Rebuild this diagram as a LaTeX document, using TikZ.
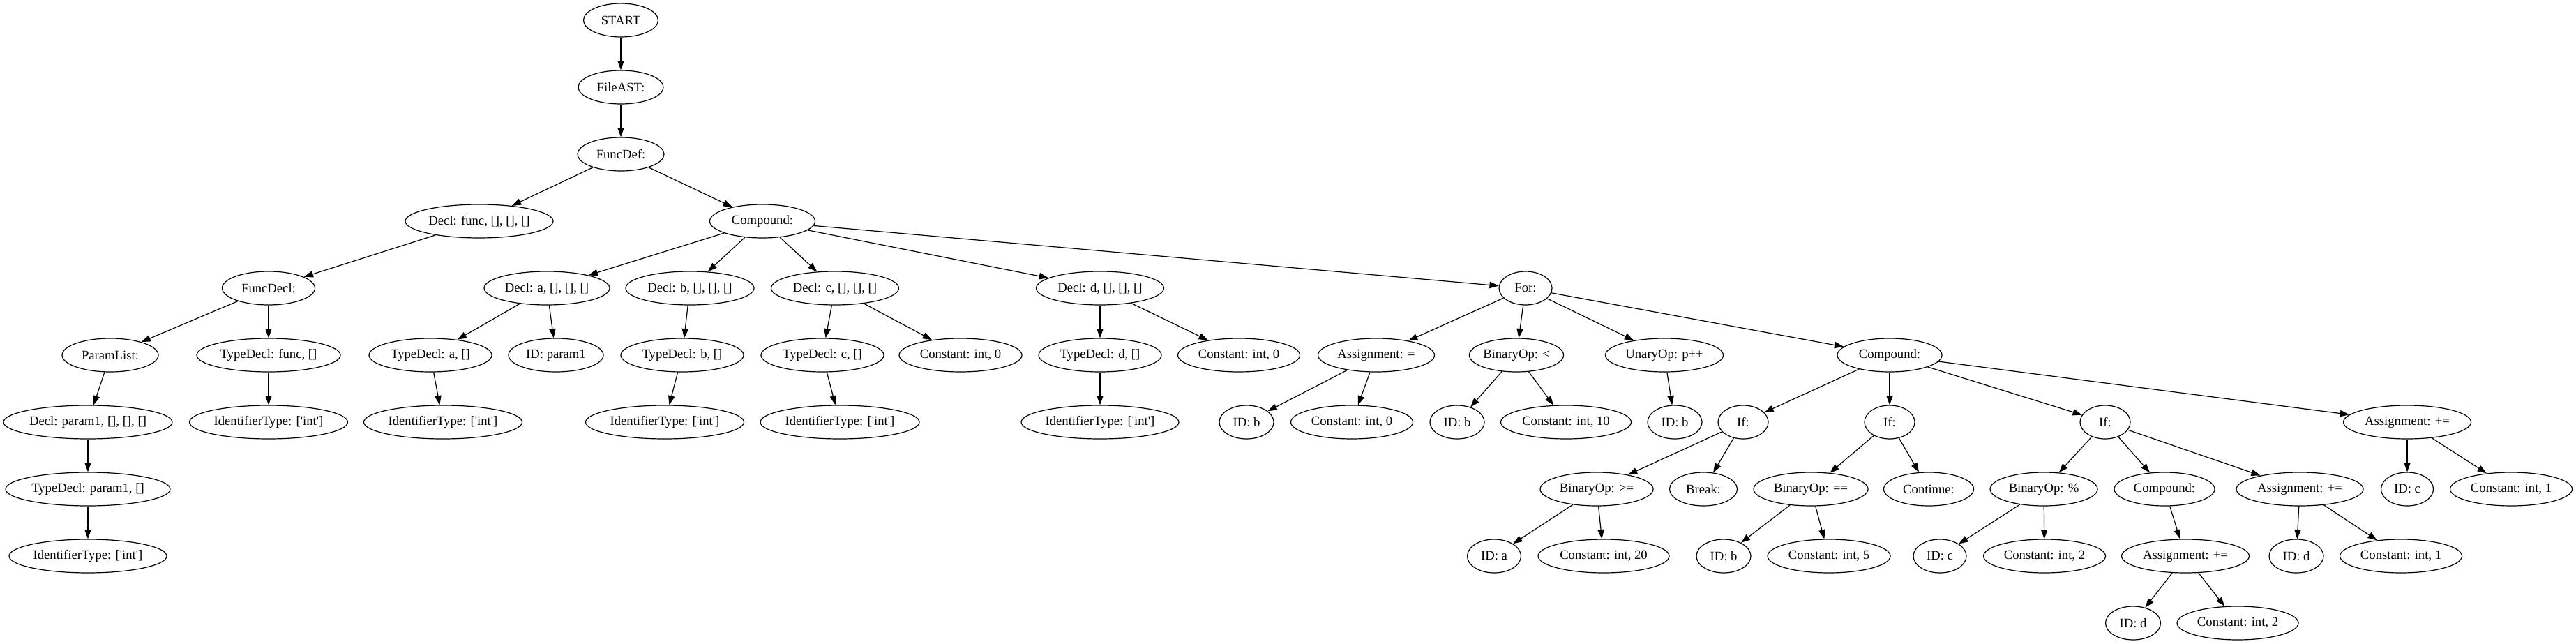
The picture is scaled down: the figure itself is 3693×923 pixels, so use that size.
\documentclass[tikz,border=0pt]{standalone}
\usepackage{fontspec}
\newfontfamily\gvfont{Liberation Serif}
\usetikzlibrary{shapes.geometric,arrows.meta}
\begin{document}
\begin{tikzpicture}[x=0.75pt,y=-0.75pt,
  gv/.style={ellipse,draw,line width=0.9pt,inner sep=0pt,minimum height=36pt,
    minimum width={#1*0.75pt},font=\gvfont\fontsize{14}{16}\selectfont},
  conn/.style={-{Triangle[length=10pt,width=7pt]},line width=0.9pt}]
\useasboundingbox (0,0) rectangle (3693,923);
% level 0-3
\node[gv=107] (start) at (890,29) {START};
\node[gv=122] (file) at (890,125) {FileAST:};
\node[gv=124] (funcdef) at (890,221) {FuncDef:};
\node[gv=212] (declfunc) at (687,317) {Decl: func, [], [], []};
\node[gv=151] (comp) at (1093,317) {Compound:};
% level 4
\node[gv=133] (funcdecl) at (385,413) {FuncDecl:};
\node[gv=180] (decla) at (784,413) {Decl: a, [], [], []};
\node[gv=184] (declb) at (989,413) {Decl: b, [], [], []};
\node[gv=183] (declc) at (1197,413) {Decl: c, [], [], []};
\node[gv=183] (decld) at (1577,413) {Decl: d, [], [], []};
\node[gv=76] (for) at (2187,413) {For:};
% level 5
\node[gv=138] (paramlist) at (158,509) {ParamList:};
\node[gv=206] (tdfunc) at (385,509) {TypeDecl: func, []};
\node[gv=176] (tda) at (617,509) {TypeDecl: a, []};
\node[gv=136] (idparam) at (797,509) {ID: param1};
\node[gv=176] (tdb) at (978,509) {TypeDecl: b, []};
\node[gv=176] (tdc) at (1179,509) {TypeDecl: c, []};
\node[gv=176] (cc0) at (1377,509) {Constant: int, 0};
\node[gv=176] (tdd) at (1577,509) {TypeDecl: d, []};
\node[gv=175] (cd0) at (1776,509) {Constant: int, 0};
\node[gv=167] (asg) at (1973,509) {Assignment: =};
\node[gv=124] (blt) at (2174,509) {BinaryOp: <};
\node[gv=169] (unop) at (2386,509) {UnaryOp: p++};
\node[gv=150] (comp2) at (2709,509) {Compound:};
% level 6
\node[gv=242] (declp) at (126,605) {Decl: param1, [], [], []};
\node[gv=227] (itfunc) at (385,605) {IdentifierType: ['int']};
\node[gv=227] (ita) at (635,605) {IdentifierType: ['int']};
\node[gv=227] (itb) at (953,605) {IdentifierType: ['int']};
\node[gv=228] (itc) at (1204,605) {IdentifierType: ['int']};
\node[gv=226] (itd) at (1577,605) {IdentifierType: ['int']};
\node[gv=78] (idb1) at (1787,605) {ID: b};
\node[gv=175] (c0) at (1938,605) {Constant: int, 0};
\node[gv=78] (idb2) at (2089,605) {ID: b};
\node[gv=187] (c10) at (2245,605) {Constant: int, 10};
\node[gv=78] (idb3) at (2401,605) {ID: b};
\node[gv=72] (if1) at (2499,605) {If:};
\node[gv=72] (if2) at (2709,605) {If:};
\node[gv=72] (if3) at (3018,605) {If:};
\node[gv=183] (asgc) at (3451,605) {Assignment: +=};
% level 7
\node[gv=236] (tdp) at (126,701) {TypeDecl: param1, []};
\node[gv=162] (bge) at (2289,701) {BinaryOp: >=};
\node[gv=97] (brk) at (2442,701) {Break:};
\node[gv=164] (beq) at (2596,701) {BinaryOp: ==};
\node[gv=129] (cont) at (2765,701) {Continue:};
\node[gv=154] (bmod) at (2930,701) {BinaryOp: \%};
\node[gv=144] (comp3) at (3103,701) {Compound:};
\node[gv=182] (asgd1) at (3297,701) {Assignment: +=};
\node[gv=75] (idc2) at (3451,701) {ID: c};
\node[gv=175] (c1b) at (3600,701) {Constant: int, 1};
% level 8
\node[gv=226] (itp) at (126,797) {IdentifierType: ['int']};
\node[gv=77] (ida) at (2142,797) {ID: a};
\node[gv=188] (c20) at (2299,797) {Constant: int, 20};
\node[gv=78] (idb4) at (2471,797) {ID: b};
\node[gv=176] (c5) at (2622,797) {Constant: int, 5};
\node[gv=76] (idc1) at (2781,797) {ID: c};
\node[gv=175] (c2a) at (2931,797) {Constant: int, 2};
\node[gv=183] (asgd2) at (3133,797) {Assignment: +=};
\node[gv=78] (idd1) at (3292,797) {ID: d};
\node[gv=175] (c1a) at (3442,797) {Constant: int, 1};
% level 9
\node[gv=79] (idd2) at (3058,893) {ID: d};
\node[gv=174] (c2b) at (3208,893) {Constant: int, 2};
% connectors
\draw[conn] (start) -- (file);
\draw[conn] (file) -- (funcdef);
\draw[conn] (funcdef) -- (declfunc);
\draw[conn] (funcdef) -- (comp);
\draw[conn] (declfunc) -- (funcdecl);
\draw[conn] (funcdecl) -- (paramlist);
\draw[conn] (funcdecl) -- (tdfunc);
\draw[conn] (paramlist) -- (declp);
\draw[conn] (declp) -- (tdp);
\draw[conn] (tdp) -- (itp);
\draw[conn] (tdfunc) -- (itfunc);
\draw[conn] (comp) -- (decla);
\draw[conn] (comp) -- (declb);
\draw[conn] (comp) -- (declc);
\draw[conn] (comp) -- (decld);
\draw[conn] (comp) -- (for);
\draw[conn] (decla) -- (tda);
\draw[conn] (decla) -- (idparam);
\draw[conn] (tda) -- (ita);
\draw[conn] (declb) -- (tdb);
\draw[conn] (tdb) -- (itb);
\draw[conn] (declc) -- (tdc);
\draw[conn] (declc) -- (cc0);
\draw[conn] (tdc) -- (itc);
\draw[conn] (decld) -- (tdd);
\draw[conn] (decld) -- (cd0);
\draw[conn] (tdd) -- (itd);
\draw[conn] (for) -- (asg);
\draw[conn] (for) -- (blt);
\draw[conn] (for) -- (unop);
\draw[conn] (for) -- (comp2);
\draw[conn] (asg) -- (idb1);
\draw[conn] (asg) -- (c0);
\draw[conn] (blt) -- (idb2);
\draw[conn] (blt) -- (c10);
\draw[conn] (unop) -- (idb3);
\draw[conn] (comp2) -- (if1);
\draw[conn] (comp2) -- (if2);
\draw[conn] (comp2) -- (if3);
\draw[conn] (comp2) -- (asgc);
\draw[conn] (if1) -- (bge);
\draw[conn] (if1) -- (brk);
\draw[conn] (bge) -- (ida);
\draw[conn] (bge) -- (c20);
\draw[conn] (if2) -- (beq);
\draw[conn] (if2) -- (cont);
\draw[conn] (beq) -- (idb4);
\draw[conn] (beq) -- (c5);
\draw[conn] (if3) -- (bmod);
\draw[conn] (if3) -- (comp3);
\draw[conn] (if3) -- (asgd1);
\draw[conn] (bmod) -- (idc1);
\draw[conn] (bmod) -- (c2a);
\draw[conn] (comp3) -- (asgd2);
\draw[conn] (asgd2) -- (idd2);
\draw[conn] (asgd2) -- (c2b);
\draw[conn] (asgd1) -- (idd1);
\draw[conn] (asgd1) -- (c1a);
\draw[conn] (asgc) -- (idc2);
\draw[conn] (asgc) -- (c1b);
\end{tikzpicture}
\end{document}
